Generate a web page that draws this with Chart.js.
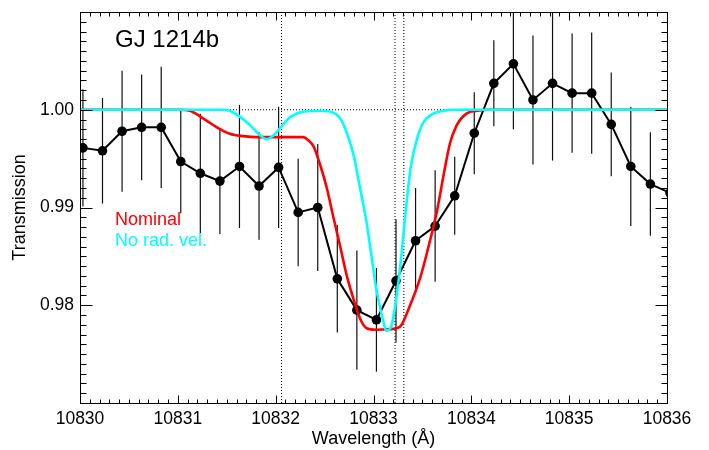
<!DOCTYPE html>
<html>
<head>
<meta charset="utf-8">
<script src="https://cdn.jsdelivr.net/npm/chart.js@4/dist/chart.umd.min.js"></script>
<style>
  html, body { margin: 0; padding: 0; background: #fff; }
  #chart { display: block; }
</style>
</head>
<body>
<canvas id="chart" width="709" height="450"></canvas>
<script>
// observed transmission spectrum
const wave = [10830.03, 10830.23, 10830.43, 10830.63, 10830.83, 10831.03, 10831.23, 10831.43,
  10831.63, 10831.83, 10832.03, 10832.23, 10832.43, 10832.63, 10832.83, 10833.03, 10833.23,
  10833.43, 10833.63, 10833.83, 10834.03, 10834.23, 10834.43, 10834.63, 10834.83, 10835.03,
  10835.23, 10835.43, 10835.63, 10835.83, 10836.03];
const trans = [0.9961, 0.9958, 0.9978, 0.9982, 0.9982, 0.9947, 0.9935, 0.9927, 0.9942, 0.9922,
  0.9941, 0.9895, 0.9900, 0.9827, 0.9795, 0.9785, 0.9825, 0.9866, 0.9881, 0.9912, 0.9976,
  1.0027, 1.0047, 1.0010, 1.0027, 1.0017, 1.0017, 0.9985, 0.9942, 0.9924, 0.9915];
const transErr = [0.0060, 0.0054, 0.0062, 0.0054, 0.0062, 0.0053, 0.0061, 0.0054, 0.0063, 0.0055,
  0.0062, 0.0055, 0.0065, 0.0055, 0.0061, 0.0053, 0.0063, 0.0054, 0.0057, 0.0040, 0.0042,
  0.0044, 0.0067, 0.0066, 0.0079, 0.0061, 0.0062, 0.0053, 0.0061, 0.0053, 0.0060];

// model: nominal
const redWave = [10830.0, 10831.0, 10831.12, 10831.26, 10831.40, 10831.53, 10831.67, 10831.81,
  10832.0, 10832.28, 10832.33, 10832.39, 10832.45, 10832.52, 10832.59, 10832.66, 10832.73,
  10832.80, 10832.86, 10832.93, 10833.03, 10833.17, 10833.27, 10833.37, 10833.48, 10833.58,
  10833.65, 10833.72, 10833.78, 10833.85, 10833.95, 10834.06, 10834.20, 10836.0];
const redTrans = [1.0, 1.0, 0.9999, 0.9991, 0.9982, 0.99755, 0.9973, 0.9972,
  0.9972, 0.9972, 0.9969, 0.9962, 0.9945, 0.9921, 0.9890, 0.9860, 0.9829,
  0.9805, 0.9787, 0.97765, 0.9775, 0.97755, 0.9778, 0.9799, 0.9829, 0.9867,
  0.9897, 0.9935, 0.9965, 0.9984, 0.9996, 0.9999, 1.0, 1.0];

// model: no radial velocity
const cyanWave = [10830.0, 10831.45, 10831.53, 10831.64, 10831.74, 10831.84, 10831.91, 10831.98,
  10832.05, 10832.15, 10832.28, 10832.45, 10832.56, 10832.66, 10832.73, 10832.80, 10832.86,
  10832.93, 10832.98, 10833.03, 10833.09, 10833.13, 10833.18, 10833.23, 10833.28, 10833.33,
  10833.38, 10833.45, 10833.51, 10833.61, 10833.72, 10833.85, 10836.0];
const cyanTrans = [1.0, 1.0, 0.9999, 0.99925, 0.9984, 0.9974, 0.9970, 0.9974,
  0.9982, 0.99925, 0.9998, 0.9999, 0.9998, 0.9991, 0.99755, 0.9952, 0.9921,
  0.9884, 0.9850, 0.9816, 0.9788, 0.9774, 0.9778, 0.9805, 0.9846, 0.9897,
  0.9941, 0.9972, 0.9987, 0.9996, 0.9999, 1.0, 1.0];

// He I triplet positions and continuum level
const lineWaves = [10832.06, 10833.22, 10833.31];
const continuum = 1.0;

const xTicks = [10830, 10831, 10832, 10833, 10834, 10835, 10836];
const yTicks = [0.98, 0.99, 1.00];
const xMin = 10830, xMax = 10836, yMin = 0.97, yMax = 1.01;

const FONT = "'Liberation Sans', Arial, Helvetica, sans-serif";

const pts = (xs, ys) => xs.map((x, i) => ({ x: x, y: ys[i] }));

const dotted = {
  borderColor: "#000",
  borderWidth: 1,
  borderDash: [1, 2],
  pointRadius: 0,
  showLine: true,
  tension: 0,
};

const datasets = [
  {
    label: "No rad. vel.",
    data: pts(cyanWave, cyanTrans),
    borderColor: "#00ffff",
    borderWidth: 2.6,
    pointRadius: 0,
    showLine: true,
    cubicInterpolationMode: "monotone",
  },
  {
    label: "Nominal",
    data: pts(redWave, redTrans),
    borderColor: "#ff0000",
    borderWidth: 2.6,
    pointRadius: 0,
    showLine: true,
    cubicInterpolationMode: "monotone",
  },
  {
    label: "data",
    data: pts(wave, trans),
    borderColor: "#000",
    backgroundColor: "#000",
    borderWidth: 2,
    pointRadius: 4.8,
    pointBorderWidth: 0,
    showLine: true,
    tension: 0,
    clip: 0,
  },
  Object.assign({ label: "cont", data: [{ x: xMin, y: continuum }, { x: xMax, y: continuum }] }, dotted),
];
lineWaves.forEach((w) => {
  datasets.push(Object.assign({ label: "he", data: [{ x: w, y: yMin }, { x: w, y: yMax }] }, dotted));
});

// error bars, drawn under the data through the scales
const errorBars = {
  id: "errorBars",
  beforeDatasetsDraw(chart) {
    const { ctx, chartArea, scales } = chart;
    ctx.save();
    ctx.beginPath();
    ctx.rect(chartArea.left, chartArea.top, chartArea.right - chartArea.left, chartArea.bottom - chartArea.top);
    ctx.clip();
    ctx.strokeStyle = "#111";
    ctx.lineWidth = 1.2;
    wave.forEach((w, i) => {
      const x = scales.x.getPixelForValue(w);
      ctx.beginPath();
      ctx.moveTo(x, scales.y.getPixelForValue(trans[i] - transErr[i]));
      ctx.lineTo(x, scales.y.getPixelForValue(trans[i] + transErr[i]));
      ctx.stroke();
    });
    ctx.restore();
  },
};

// frame with inward major/minor ticks on all four sides, plus labels
const frame = {
  id: "frame",
  afterDraw(chart) {
    const { ctx, chartArea: a, scales } = chart;
    const L = Math.round(a.left) + 0.5, R = Math.round(a.right) + 0.5;
    const T = Math.round(a.top) + 0.5, B = Math.round(a.bottom) + 0.5;
    ctx.save();
    ctx.strokeStyle = "#000";
    ctx.lineWidth = 1;
    ctx.strokeRect(L, T, R - L, B - T);
    ctx.beginPath();
    for (let k = 0; k <= 60; k++) {
      const x = Math.round(scales.x.getPixelForValue(xMin + k * 0.1)) + 0.5;
      const len = k % 10 === 0 ? 8 : 4;
      ctx.moveTo(x, B); ctx.lineTo(x, B - len);
      ctx.moveTo(x, T); ctx.lineTo(x, T + len);
    }
    for (let k = 0; k <= 40; k++) {
      const y = Math.round(scales.y.getPixelForValue(yMin + k * 0.001)) + 0.5;
      const len = k % 10 === 0 ? 12 : 6;
      ctx.moveTo(L, y); ctx.lineTo(L + len, y);
      ctx.moveTo(R, y); ctx.lineTo(R - len, y);
    }
    ctx.stroke();

    ctx.textBaseline = "alphabetic";
    ctx.textAlign = "left";
    ctx.fillStyle = "#000";
    ctx.font = "24px " + FONT;
    ctx.fillText("GJ 1214b", 115, 47);
    ctx.font = "18px " + FONT;
    ctx.fillStyle = "#ff0000";
    ctx.fillText("Nominal", 115, 225);
    ctx.fillStyle = "#00ffff";
    ctx.fillText("No rad. vel.", 115, 245.5);
    ctx.restore();
  },
};

const noPad = (s) => { s.paddingTop = 0; s.paddingBottom = 0; s.paddingLeft = 0; s.paddingRight = 0; };

new Chart(document.getElementById("chart"), {
  type: "scatter",
  data: { datasets: datasets },
  options: {
    responsive: false,
    animation: false,
    events: [],
    layout: { padding: { top: 12, right: 42, bottom: 0, left: 0 } },
    plugins: { legend: { display: false }, tooltip: { enabled: false } },
    scales: {
      x: {
        type: "linear",
        min: xMin,
        max: xMax,
        afterBuildTicks: (s) => { s.ticks = xTicks.map((v) => ({ value: v })); },
        afterFit: (s) => { s.height = 47; noPad(s); },
        grid: { display: false, drawTicks: false },
        border: { display: false },
        ticks: {
          autoSkip: false,
          maxRotation: 0,
          padding: 6,
          color: "#000",
          font: { family: FONT, size: 17.5 },
          callback: (v) => String(v),
        },
        title: {
          display: true,
          text: "Wavelength (Å)",
          color: "#000",
          font: { family: FONT, size: 18 },
          padding: { top: 0, bottom: 0 },
        },
      },
      y: {
        type: "linear",
        min: yMin,
        max: yMax,
        afterBuildTicks: (s) => { s.ticks = yTicks.map((v) => ({ value: v })); },
        afterFit: (s) => { s.width = 80; noPad(s); },
        grid: { display: false, drawTicks: false },
        border: { display: false },
        ticks: {
          padding: 6,
          color: "#000",
          font: { family: FONT, size: 17.5 },
          callback: (v) => v.toFixed(2),
        },
        title: {
          display: true,
          text: "Transmission",
          color: "#000",
          font: { family: FONT, size: 18 },
          padding: { top: 9, bottom: 0 },
        },
      },
    },
  },
  plugins: [errorBars, frame],
});
</script>
</body>
</html>
